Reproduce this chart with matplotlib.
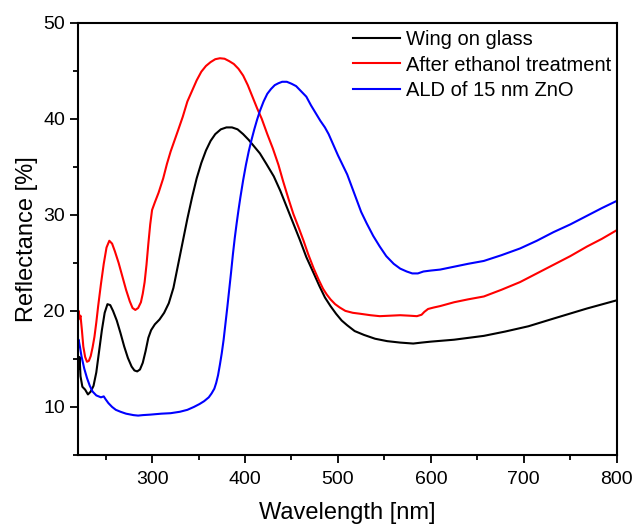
import matplotlib
matplotlib.use("Agg")
import matplotlib.pyplot as plt
from matplotlib.ticker import MultipleLocator

plt.rcParams['font.family'] = ['Liberation Sans', 'DejaVu Sans']

# Wing on glass
wl_wing = [220, 221, 222, 223, 225, 228, 231, 234, 237, 240, 243, 246, 249, 252, 255,
           258, 262, 266, 270, 274, 278, 281, 284, 287, 290, 293, 296, 299, 303, 308,
           313, 318, 323, 328, 333, 338, 343, 348, 353, 358, 363, 368, 374, 380, 386,
           392, 398, 404, 410, 416, 423, 431, 438, 445, 452, 459, 466, 474, 480, 486,
           492, 498, 504, 510, 518, 528, 540, 553, 567, 581, 590, 600, 625, 657, 680,
           705, 732, 768, 800]
refl_wing = [15.5, 14.0, 15.2, 13.2, 12.1, 11.8, 11.3, 11.6, 12.2, 13.6, 15.8, 18.0, 19.8,
             20.7, 20.6, 20.0, 19.0, 17.7, 16.3, 15.1, 14.2, 13.8, 13.7, 13.9, 14.6, 15.8,
             17.2, 18.0, 18.6, 19.1, 19.8, 20.8, 22.4, 24.8, 27.2, 29.6, 31.8, 33.8, 35.4,
             36.7, 37.7, 38.4, 38.9, 39.1, 39.1, 38.9, 38.4, 37.8, 37.1, 36.4, 35.3, 34.0,
             32.5, 30.8, 29.1, 27.4, 25.6, 23.9, 22.6, 21.4, 20.5, 19.7, 19.0, 18.5, 17.9,
             17.5, 17.1, 16.85, 16.7, 16.6, 16.7, 16.8, 17.0, 17.4, 17.85, 18.4, 19.2,
             20.25, 21.1]

# After ethanol treatment
wl_eth = [220, 221, 222, 223, 224.5, 226, 228, 230, 232, 234, 236, 238, 240, 242, 245,
          248, 251, 254, 257, 260, 264, 268, 272, 276, 279, 282, 285, 288, 290, 292, 294,
          296, 298, 300, 303, 307, 312, 316, 320, 324, 328, 333, 338, 343, 348, 353, 358,
          363, 368, 373, 378, 383, 388, 393, 398, 403, 408, 413, 418, 424, 430, 436, 441,
          447, 452, 458, 463, 468, 474, 479, 484, 488, 492, 497, 502, 508, 516, 524, 535,
          545, 556, 567, 577, 585, 590, 593, 597, 603, 610, 625, 640, 657, 676, 696, 714,
          732, 750, 768, 784, 800]
refl_eth = [18.5, 20.0, 19.2, 19.5, 18.0, 16.3, 15.2, 14.7, 14.8, 15.3, 16.2, 17.3, 18.8,
            20.5, 22.8, 24.9, 26.6, 27.3, 27.0, 26.2, 25.0, 23.6, 22.2, 21.0, 20.3, 20.1,
            20.3, 20.9, 21.8, 23.0, 24.8, 27.0, 29.0, 30.5, 31.3, 32.3, 33.8, 35.3, 36.6,
            37.7, 38.8, 40.2, 41.8, 42.9, 44.0, 44.9, 45.5, 45.9, 46.2, 46.3, 46.25, 46.0,
            45.7, 45.2, 44.5, 43.5, 42.3, 41.1, 40.0, 38.4, 36.9, 35.2, 33.5, 31.6, 30.1,
            28.6, 27.3, 25.9, 24.4, 23.3, 22.3, 21.7, 21.2, 20.7, 20.35, 20.0, 19.8, 19.7,
            19.55, 19.45, 19.5, 19.55, 19.5, 19.45, 19.6, 19.9, 20.2, 20.35, 20.5, 20.9,
            21.2, 21.5, 22.2, 23.0, 23.9, 24.8, 25.7, 26.7, 27.5, 28.4]

# ALD of 15 nm ZnO
wl_zno = [220, 221, 222.5, 224, 227, 230, 233, 236, 240, 245, 248, 250, 253, 257, 261,
          266, 272, 280, 285, 290, 298, 310, 320, 330, 338, 345, 351, 356, 361, 364, 367,
          369, 371, 373, 375, 377, 379, 381, 383, 385, 387, 389, 391, 393, 395, 398, 401,
          404, 407, 410, 413, 416, 420, 424, 428, 432, 436, 440, 445, 450, 455, 460, 466,
          471, 476, 481, 486, 490, 495, 500, 505, 510, 515, 520, 525, 531, 538, 545, 552,
          560, 567, 574, 580, 586, 592, 600, 610, 625, 640, 657, 676, 696, 714, 732, 750,
          768, 784, 800]
refl_zno = [16.5, 17.0, 16.2, 15.3, 14.0, 13.0, 12.2, 11.6, 11.2, 11.0, 11.1, 10.8, 10.4,
            10.0, 9.7, 9.5, 9.3, 9.15, 9.1, 9.15, 9.2, 9.3, 9.35, 9.5, 9.7, 10.0, 10.3,
            10.6, 11.0, 11.4, 11.9, 12.5, 13.3, 14.4, 15.6, 17.0, 18.7, 20.4, 22.2, 24.0,
            25.9, 27.6, 29.1, 30.5, 31.8, 33.6, 35.2, 36.6, 37.8, 38.9, 39.9, 40.8, 41.8,
            42.6, 43.1, 43.5, 43.7, 43.85, 43.85, 43.65, 43.4, 42.9, 42.3, 41.4, 40.6,
            39.8, 39.1, 38.4, 37.3, 36.2, 35.2, 34.2, 32.9, 31.6, 30.3, 29.1, 27.8, 26.7,
            25.7, 24.9, 24.4, 24.1, 23.9, 23.9, 24.1, 24.2, 24.3, 24.6, 24.9, 25.2, 25.8,
            26.5, 27.3, 28.2, 29.0, 29.9, 30.7, 31.45]

fig = plt.figure(figsize=(6.36, 5.28), dpi=100)
ax = fig.add_axes([0.1222, 0.1383, 0.8475, 0.8187])

ax.plot(wl_wing, refl_wing, color='black', lw=1.5, label='Wing on glass')
ax.plot(wl_eth, refl_eth, color='red', lw=1.5, label='After ethanol treatment')
ax.plot(wl_zno, refl_zno, color='blue', lw=1.5, label='ALD of 15 nm ZnO')

ax.set_xlim(220, 800)
ax.set_ylim(5, 50)
ax.xaxis.set_minor_locator(MultipleLocator(50))
ax.yaxis.set_minor_locator(MultipleLocator(5))
ax.set_xticks([300, 400, 500, 600, 700, 800])
ax.set_yticks([10, 20, 30, 40, 50])

ax.tick_params(which='major', direction='out', length=5.5, width=1.3, labelsize=14)
ax.tick_params(axis='x', which='major', pad=6)
ax.tick_params(which='minor', direction='out', length=3.5, width=1.3)
for s in ax.spines.values():
    s.set_linewidth(1.5)

ax.set_xlabel('Wavelength [nm]', fontsize=17, labelpad=10)
ax.set_ylabel('Reflectance [%]', fontsize=17, labelpad=4)

ax.legend(loc='upper left', bbox_to_anchor=(0.5, 0.996), frameon=False,
          fontsize=14.5, handlelength=2.3, handletextpad=0.32,
          labelspacing=0.3, borderaxespad=0.0, borderpad=0.3)

fig.savefig('out.png', dpi=100)
